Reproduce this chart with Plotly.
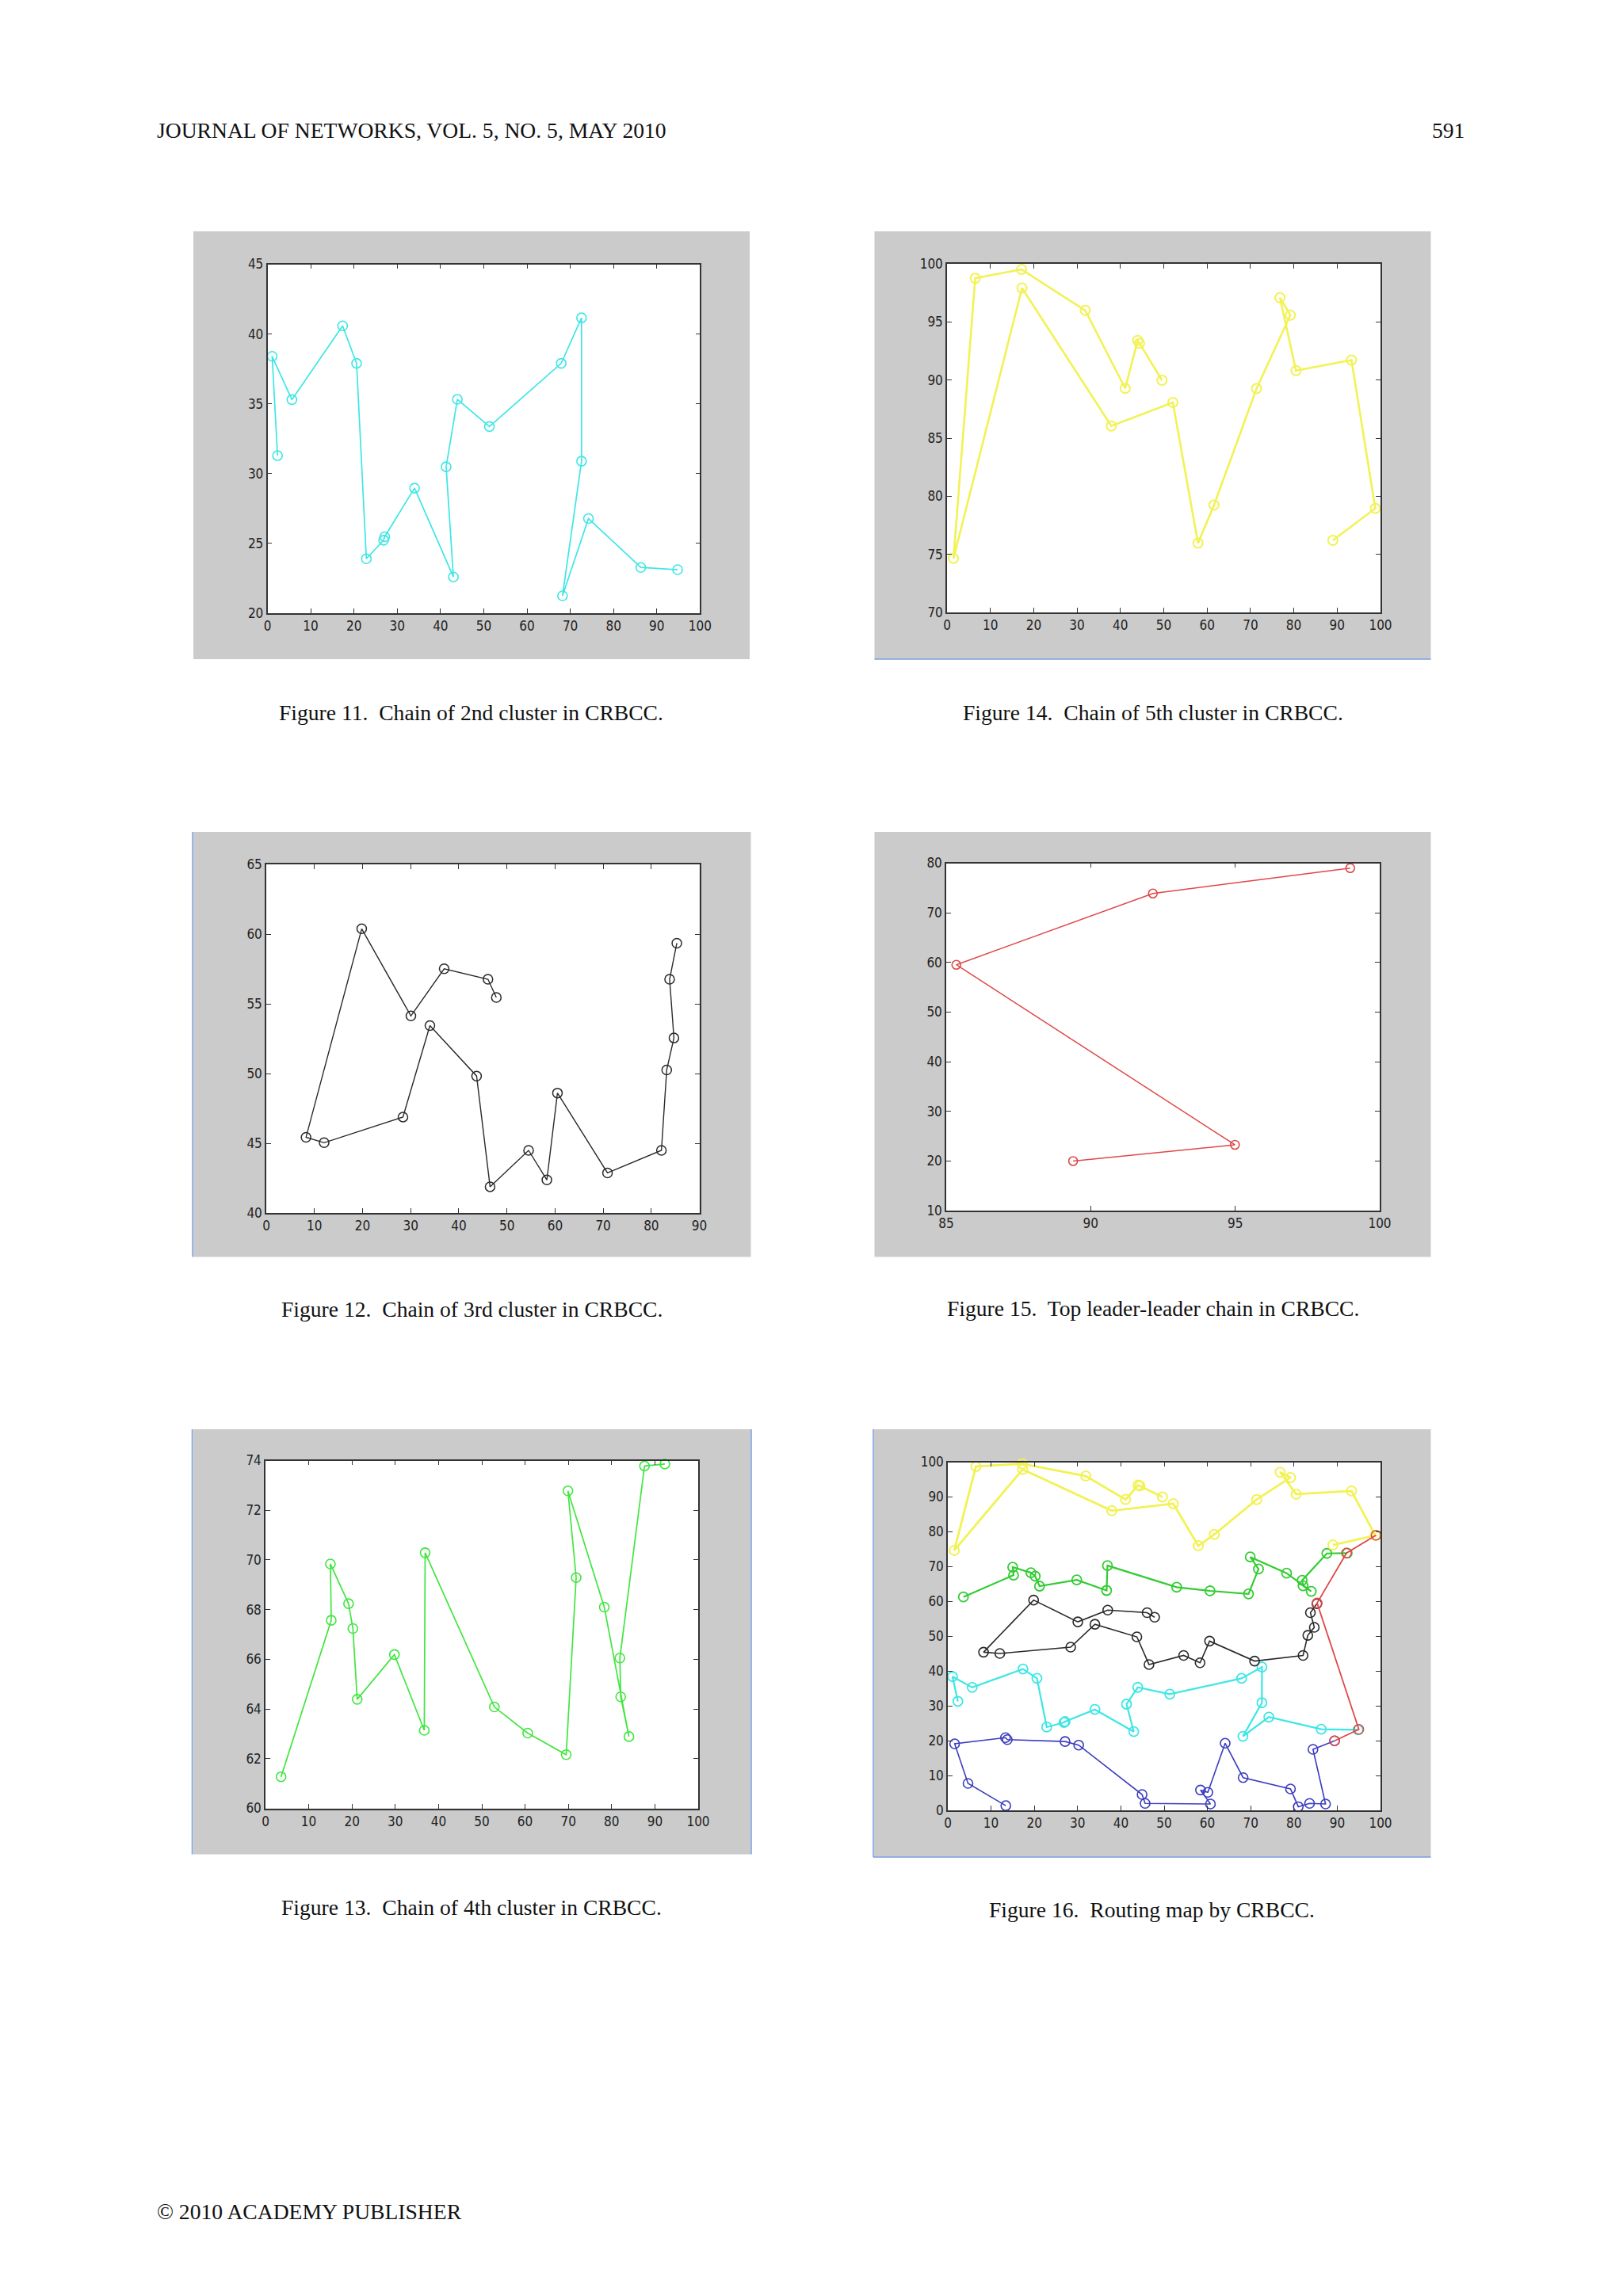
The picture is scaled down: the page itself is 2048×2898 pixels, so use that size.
import plotly.graph_objects as go

W, H = 2048, 2898

# ---------------- data ----------------
c2_x = [2.33, 1.08, 5.65, 17.37, 20.6, 22.86, 26.85, 27.1, 34.0, 42.98, 41.3, 43.9, 51.3, 67.9, 72.6, 72.6, 68.2, 74.2, 86.3, 94.8]
c2_y = [31.29, 38.4, 35.3, 40.59, 37.9, 23.9, 25.23, 25.48, 28.96, 22.6, 30.49, 35.32, 33.37, 37.9, 41.16, 30.89, 21.25, 26.78, 23.28, 23.12]

c5_x = [49.6, 44.4, 44.0, 41.1, 31.9, 17.2, 6.5, 1.5, 17.3, 37.9, 52.1, 57.9, 61.6, 71.4, 79.2, 76.8, 80.5, 93.3, 98.8, 89.0]
c5_y = [89.98, 93.15, 93.41, 89.28, 95.99, 99.52, 98.76, 74.65, 97.92, 86.04, 88.07, 75.97, 79.24, 89.26, 95.58, 97.09, 90.81, 91.72, 78.95, 76.2]

c3_x = [47.8, 46.06, 36.96, 30.05, 19.83, 8.26, 12.02, 28.4, 34.0, 43.7, 46.5, 54.5, 58.3, 60.5, 70.9, 82.1, 83.2, 84.7, 83.8, 85.3]
c3_y = [55.45, 56.76, 57.51, 54.13, 60.38, 45.43, 45.04, 46.88, 53.44, 49.82, 41.88, 44.49, 42.37, 48.6, 42.87, 44.49, 50.26, 52.55, 56.76, 59.35]

lead_x = [89.39, 94.99, 85.35, 92.15, 98.98]
lead_y = [19.98, 23.26, 59.53, 73.9, 79.0]

c4_x = [3.6, 15.2, 15.0, 19.2, 20.2, 21.2, 29.8, 36.7, 36.9, 52.9, 60.6, 69.5, 71.8, 69.9, 78.3, 84.0, 82.1, 81.9, 87.6, 92.3]
c4_y = [61.27, 67.57, 69.84, 68.24, 67.24, 64.39, 66.19, 63.14, 70.29, 64.08, 63.03, 62.16, 69.29, 72.78, 68.1, 62.89, 64.49, 66.05, 73.78, 73.86]

c1_x = [13.4, 4.67, 1.58, 13.33, 13.75, 27.1, 30.25, 44.9, 45.6, 60.7, 58.4, 60.1, 64.1, 68.25, 79.2, 81.0, 83.6, 87.3, 84.4, 89.39]
c1_y = [1.35, 7.73, 19.12, 20.88, 20.3, 19.76, 18.73, 4.54, 1.99, 1.83, 5.82, 5.18, 19.28, 9.4, 6.14, 1.04, 1.99, 1.83, 17.53, 19.98]

fig11_xticks = [0, 10, 20, 30, 40, 50, 60, 70, 80, 90, 100]
fig11_yticks = [20, 25, 30, 35, 40, 45]
fig14_yticks = [70, 75, 80, 85, 90, 95, 100]
fig12_xticks = [0, 10, 20, 30, 40, 50, 60, 70, 80, 90]
fig12_yticks = [40, 45, 50, 55, 60, 65]
fig15_xticks = [85, 90, 95, 100]
fig15_yticks = [10, 20, 30, 40, 50, 60, 70, 80]
fig13_yticks = [60, 62, 64, 66, 68, 70, 72, 74]
fig16_yticks = [0, 10, 20, 30, 40, 50, 60, 70, 80, 90, 100]

captions = [
    "Figure 11.  Chain of 2nd cluster in CRBCC.",
    "Figure 14.  Chain of 5th cluster in CRBCC.",
    "Figure 12.  Chain of 3rd cluster in CRBCC.",
    "Figure 15.  Top leader-leader chain in CRBCC.",
    "Figure 13.  Chain of 4th cluster in CRBCC.",
    "Figure 16.  Routing map by CRBCC.",
]
header_text = "JOURNAL OF NETWORKS, VOL. 5, NO. 5, MAY 2010"
page_no = "591"
footer_text = "© 2010 ACADEMY PUBLISHER"

def px(v):
    return v / W

def py(v):
    return 1 - v / H

panels = [
    ((244, 946, 292, 832), (337.5, 883.4, 333.5, 774)),
    ((1103.5, 1805.5, 292, 832), (1195, 1742, 333, 773)),
    ((244, 947.5, 1050, 1586.5), (336, 882.6, 1091, 1531)),
    ((1103.5, 1805.5, 1050, 1586.5), (1194, 1741, 1089.5, 1528)),
    ((243.5, 947.5, 1804, 2340.5), (335, 881, 1843.5, 2282.5)),
    ((1102.5, 1805.5, 1804, 2344), (1196, 1742, 1845.5, 2285)),
]
caption_pos = [(594, 900), (1455, 900), (595, 1652), (1455, 1651), (595, 2407), (1453, 2410)]

axis_specs = [
    ((0, 100), fig11_xticks, (20, 45), fig11_yticks),
    ((0, 100), fig11_xticks, (70, 100), fig14_yticks),
    ((0, 90), fig12_xticks, (40, 65), fig12_yticks),
    ((85, 100), fig15_xticks, (10, 80), fig15_yticks),
    ((0, 100), fig11_xticks, (60, 74), fig13_yticks),
    ((0, 100), fig11_xticks, (0, 100), fig16_yticks),
]

fig = go.Figure()

def add_chain(i, xs, ys, color, lw=1.6, ms=12, mw=1.6):
    sfx = "" if i == 1 else str(i)
    fig.add_trace(go.Scatter(
        x=xs, y=ys, mode="lines+markers",
        line=dict(color=color, width=lw),
        marker=dict(symbol="circle-open", size=ms, color=color, line=dict(width=mw, color=color)),
        xaxis="x" + sfx, yaxis="y" + sfx, cliponaxis=False, showlegend=False,
        hoverinfo="x+y",
    ))

CYAN = "#3ee6e6"
YELLOW = "#f2f255"
BLACK = "#2a2a2a"
RED = "#e04848"
GREEN = "#40e640"
GREEN16 = "#33cc33"
BLUE = "#3c3cc0"

add_chain(1, c2_x, c2_y, CYAN, lw=1.7)
add_chain(2, c5_x, c5_y, YELLOW, lw=2.6, mw=2)
add_chain(3, c3_x, c3_y, BLACK, lw=1.4, mw=1.5)
add_chain(4, lead_x, lead_y, RED, lw=1.5, ms=11)
add_chain(5, c4_x, c4_y, GREEN, lw=1.7)
add_chain(6, c1_x, c1_y, BLUE, lw=1.6)
add_chain(6, c2_x, c2_y, CYAN, lw=2.2, mw=1.8)
add_chain(6, c3_x, c3_y, BLACK, lw=1.6)
add_chain(6, c4_x, c4_y, GREEN16, lw=2.2, mw=1.8)
add_chain(6, c5_x, c5_y, YELLOW, lw=2.8, mw=2)
add_chain(6, lead_x, lead_y, RED, lw=1.8)

layout = dict(
    width=W, height=H, autosize=False,
    margin=dict(l=0, r=0, t=0, b=0, pad=0, autoexpand=False),
    paper_bgcolor="white",
    plot_bgcolor="rgba(0,0,0,0)",
    showlegend=False,
)

tickfont = dict(family="Liberation Sans Narrow, DejaVu Sans Condensed, Arial Narrow, sans-serif", size=17, color="#222222")
shapes = []
for i, ((gx0, gx1, gy0, gy1), (ax0, ax1, ay0, ay1)) in enumerate(panels, start=1):
    (xr, xt, yr, yt) = axis_specs[i - 1]
    sfx = "" if i == 1 else str(i)
    common = dict(showline=True, linecolor="#333333", linewidth=1.5, mirror="ticks",
                  ticks="inside", ticklen=6, tickwidth=1.4, tickcolor="#333333",
                  showgrid=False, zeroline=False, tickfont=tickfont, fixedrange=True, automargin=False)
    layout["xaxis" + sfx] = dict(domain=[px(ax0), px(ax1)], anchor="y" + sfx, range=list(xr),
                                 tickvals=xt, ticktext=[str(t) for t in xt], **common)
    layout["yaxis" + sfx] = dict(domain=[py(ay1), py(ay0)], anchor="x" + sfx, range=list(yr),
                                 tickvals=yt, ticktext=[str(t) for t in yt], **common)
    shapes.append(dict(type="rect", xref="paper", yref="paper", x0=px(gx0), x1=px(gx1),
                       y0=py(gy1), y1=py(gy0), fillcolor="#cbcbcb", line=dict(width=0), layer="below"))
    shapes.append(dict(type="rect", xref="paper", yref="paper", x0=px(ax0), x1=px(ax1),
                       y0=py(ay1), y1=py(ay0), fillcolor="white", line=dict(width=0), layer="below"))

BL = "#7a9ee0"
def vline(x, y0, y1):
    shapes.append(dict(type="line", xref="paper", yref="paper", x0=px(x), x1=px(x), y0=py(y0), y1=py(y1),
                       line=dict(color=BL, width=1.5)))
def hline(y, x0, x1):
    shapes.append(dict(type="line", xref="paper", yref="paper", x0=px(x0), x1=px(x1), y0=py(y), y1=py(y),
                       line=dict(color=BL, width=1.5)))
hline(832, 1103.5, 1805.5)
vline(243, 1050, 1586.5)
vline(242.5, 1804, 2340.5)
vline(948, 1804, 2340.5)
vline(1102, 1804, 2344)
hline(2344, 1102, 1805.5)

layout["shapes"] = shapes

serif = dict(family="Liberation Serif, Times New Roman, serif", size=27.6, color="#111111")
ann = []
ann.append(dict(text=header_text, x=px(196), y=py(164), xref="paper", yref="paper",
                xanchor="left", yanchor="middle", showarrow=False, font=serif))
ann.append(dict(text=page_no, x=px(1850), y=py(164), xref="paper", yref="paper",
                xanchor="right", yanchor="middle", showarrow=False, font=serif))
ann.append(dict(text=footer_text, x=px(196), y=py(2791), xref="paper", yref="paper",
                xanchor="left", yanchor="middle", showarrow=False, font=serif))
for (cx, cy), txt in zip(caption_pos, captions):
    ann.append(dict(text=txt.replace("  ", "&nbsp; "), x=px(cx), y=py(cy), xref="paper", yref="paper",
                    xanchor="center", yanchor="middle", showarrow=False, font=serif))
layout["annotations"] = ann

fig.update_layout(**layout)
fig.write_html(
    "out.html",
    config={"displayModeBar": False, "responsive": False},
    post_script="document.documentElement.style.margin='0';document.documentElement.style.overflow='hidden';"
                "document.body.style.margin='0';document.body.style.padding='0';document.body.style.overflow='hidden';",
)
